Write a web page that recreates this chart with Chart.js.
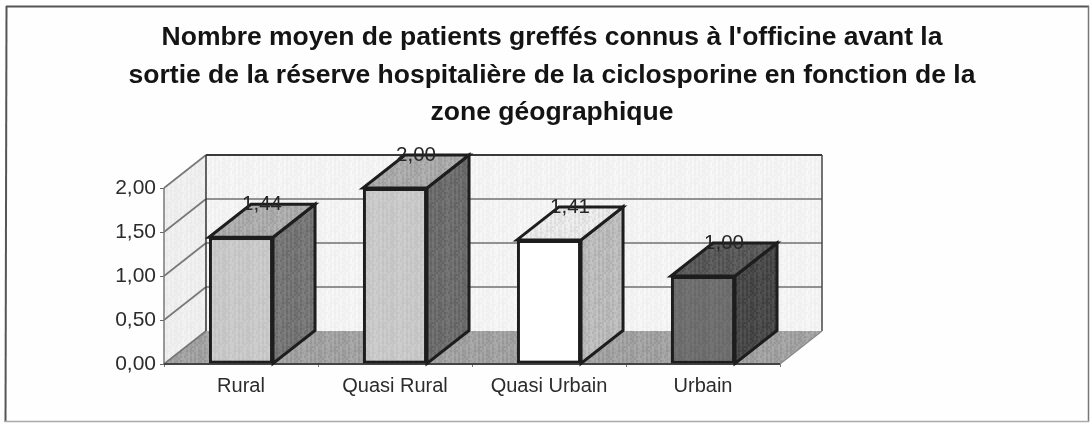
<!DOCTYPE html>
<html><head><meta charset="utf-8">
<style>html,body{margin:0;padding:0;background:#fff}#w{position:relative;width:1090px;height:423px}canvas{filter:blur(0.45px)}</style>
<script src="https://cdn.jsdelivr.net/npm/chart.js@4"></script>
</head><body><div id="w"><canvas id="c" width="1090" height="423"></canvas></div>
<script>
const titleLines = ["Nombre moyen de patients greffés connus à l'officine avant la",
  "sortie de la réserve hospitalière de la ciclosporine en fonction de la",
  "zone géographique"];
const categories = ["Rural","Quasi Rural","Quasi Urbain","Urbain"];
const values = [1.44,2.00,1.41,1.00];
const valueLabels = ["1,44","2,00","1,41","1,00"];
const frontColors = ["#c8c8c8","#c8c8c8","#ffffff","#6e6e6e"];
const sideColors = ["#747474","#6c6c6c","#b9b9b9","#484848"];
const topColors = ["#aaaaaa","#a8a8a8","#e6e6e6","#585858"];
const DEPTH_X = 42, DEPTH_Y = 33;
const FONT = '"Liberation Sans", Arial, sans-serif';

// fixed print-grain tile (purely decorative shade offsets)
const GRAIN = [
  [ 3,-5, 6,-2, 4,-7, 1, 5],
  [-6, 2,-3, 7,-4, 3,-8, 0],
  [ 5,-1, 8,-6, 2,-3, 6,-4],
  [-2, 4,-7, 1,-5, 7,-1, 3],
  [ 7,-4, 2,-8, 5, 0,-6, 4],
  [-3, 6,-1, 3,-7, 4, 2,-5],
  [ 1,-6, 5,-2, 7,-3, 8,-1],
  [-7, 3,-4, 6, 0,-5, 2, 6]];
function grain(hex, amp){
  const base=parseInt(hex.slice(1,3),16);
  const t=document.createElement('canvas');t.width=t.height=24;
  const c=t.getContext('2d');
  for(let y=0;y<24;y+=2)for(let x=0;x<24;x+=2){
    const g=GRAIN[(y/2+((x/2)>>2))%8][(x/2+(y/2)*3)%8];
    const v=Math.max(0,Math.min(255,Math.round(base+g*amp)));
    c.fillStyle=`rgb(${v},${v},${v})`;c.fillRect(x,y,2,2);
  }
  return document.createElement('canvas').getContext('2d').createPattern(t,'repeat');
}
function poly(ctx, pts, fill, stroke, lw){
  ctx.beginPath();
  pts.forEach((p,i)=> i?ctx.lineTo(p[0],p[1]):ctx.moveTo(p[0],p[1]));
  ctx.closePath();
  if(fill){ctx.fillStyle=fill;ctx.fill();}
  if(stroke){ctx.strokeStyle=stroke;ctx.lineWidth=lw;ctx.lineJoin='miter';ctx.stroke();}
}
function line(ctx,x1,y1,x2,y2,color,lw){
  ctx.beginPath();ctx.moveTo(x1,y1);ctx.lineTo(x2,y2);ctx.strokeStyle=color;ctx.lineWidth=lw;ctx.stroke();
}
const box3d = {
  id:'box3d',
  beforeDraw(chart){
    const ctx=chart.ctx;
    ctx.save();
    ctx.fillStyle='#fefefe';ctx.fillRect(0,0,chart.width,chart.height);
    line(ctx,6,6.5,1089,6.5,'#555',2);
    line(ctx,6.5,6,5.5,422,'#555',2);
    line(ctx,1088.5,6,1088.5,422,'#777',1.5);
    line(ctx,5,421.5,1089,421.5,'#aaa',1.5);
    ctx.restore();
  },
  beforeDatasetsDraw(chart){
    const {ctx,chartArea:a,scales:{y}}=chart, dx=DEPTH_X, dy=DEPTH_Y;
    ctx.save();
    poly(ctx,[[a.left+dx,a.top-dy],[a.right+dx,a.top-dy],[a.right+dx,a.bottom-dy],[a.left+dx,a.bottom-dy]],grain('#f3f3f3',0.6));
    poly(ctx,[[a.left,a.top],[a.left+dx,a.top-dy],[a.left+dx,a.bottom-dy],[a.left,a.bottom]],grain('#eeeeee',0.6));
    poly(ctx,[[a.left,a.bottom],[a.right,a.bottom],[a.right+dx,a.bottom-dy],[a.left+dx,a.bottom-dy]],grain('#a0a0a0',1.4));
    y.ticks.forEach(t=>{
      const py=y.getPixelForValue(t.value);
      if(t.value>0) line(ctx,a.left+dx,py-dy,a.right+dx,py-dy,t.value===2?'#3a3a3a':'#707070',t.value===2?2:1.6);
      line(ctx,a.left,py,a.left+dx,py-dy,'#777',1.6);
    });
    line(ctx,a.left+dx,a.top-dy,a.left+dx,a.bottom-dy,'#333',1.5);
    line(ctx,a.right+dx,a.top-dy,a.right+dx,a.bottom-dy,'#444',1.5);
    line(ctx,a.right,a.bottom,a.right+dx,a.bottom-dy,'#888',1.2);
    line(ctx,a.left,a.top,a.left,a.bottom,'#777',1.5);
    line(ctx,a.left,a.bottom,a.right,a.bottom,'#444',2);
    const els=chart.getDatasetMeta(0).data;
    els.forEach((el,i)=>{
      const l=el.x-el.width/2, r=el.x+el.width/2, t=el.y, b=el.base;
      poly(ctx,[[r,t],[r+dx,t-dy],[r+dx,b-dy],[r,b]],grain(sideColors[i],1.4),'#1d1d1d',3);
      poly(ctx,[[l,t],[r,t],[r+dx,t-dy],[l+dx,t-dy]],grain(topColors[i],1.4),'#1d1d1d',3);
    });
    ctx.restore();
  },
  afterDatasetsDraw(chart){
    const ctx=chart.ctx;
    ctx.save();
    ctx.font='20.5px '+FONT;ctx.fillStyle='#262626';ctx.textAlign='center';ctx.textBaseline='middle';
    chart.getDatasetMeta(0).data.forEach((el,i)=>{
      ctx.fillText(valueLabels[i],el.x+DEPTH_X/2,el.y-DEPTH_Y);
    });
    ctx.restore();
  }
};
new Chart(document.getElementById('c'),{
  type:'bar',
  data:{labels:categories,datasets:[{data:values,
    backgroundColor:frontColors.map(c=>c==='#ffffff'?c:grain(c,0.9)),
    borderColor:'#1d1d1d',borderWidth:3,borderSkipped:false,
    barPercentage:0.416,categoryPercentage:1}]},
  plugins:[box3d],
  options:{
    responsive:false,animation:false,
    layout:{padding:{left:14,right:0,top:0,bottom:0}},
    plugins:{
      legend:{display:false},tooltip:{enabled:false},
      title:{display:true,text:titleLines,color:'#141414',
        font:{family:FONT,size:26.5,weight:'bold',lineHeight:37.5/26.5},
        padding:{top:19,bottom:56.5}}
    },
    scales:{
      x:{grid:{drawOnChartArea:false,drawTicks:true,tickLength:3,color:'#777'},border:{display:false},
        ticks:{color:'#2c2c2c',padding:7,font:{family:FONT,size:20},maxRotation:0},
        afterFit(s){s.height=59;}},
      y:{min:0,max:2,position:'left',
        grid:{drawOnChartArea:false,drawTicks:true,tickLength:4,color:'#666'},border:{display:false},
        ticks:{stepSize:0.5,color:'#2c2c2c',padding:4,font:{family:FONT,size:21},
          callback:v=>v.toFixed(2).replace('.',',')},
        afterFit(s){s.width=150;}},
      spacer:{position:'right',grid:{display:false},border:{display:false},ticks:{display:false},
        afterFit(s){s.width=310;}}
    }
  }
});
</script></body></html>
